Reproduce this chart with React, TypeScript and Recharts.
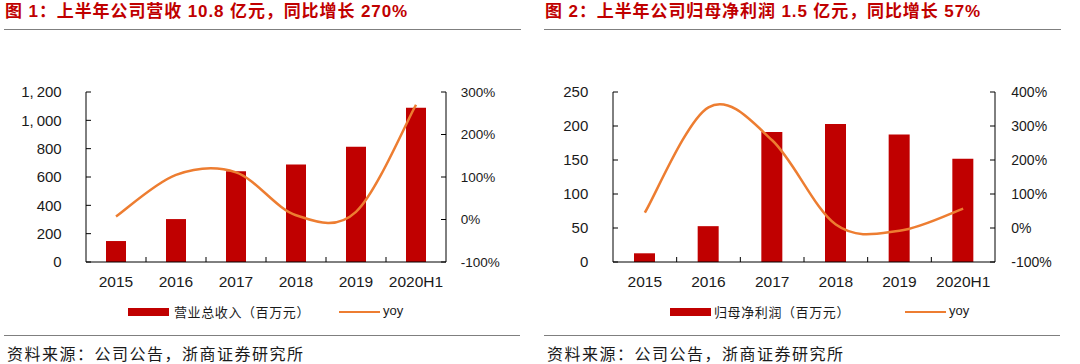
import React from 'react';
import { ComposedChart, Bar, Line, XAxis, YAxis } from 'recharts';

// ---------- data ----------
const years = ['2015', '2016', '2017', '2018', '2019', '2020H1'];
const revenue = [148, 303, 640, 689, 814, 1089];
const revenueYoy = [7, 105, 111, 10, 18, 270];
const netProfit = [12.8, 52.7, 191, 203, 187.5, 152];
const netProfitYoy = [45, 355, 258, 10, -8, 57];

const revenueTicks = [0, 200, 400, 600, 800, 1000, 1200];
const revenueYoyTicks = [-100, 0, 100, 200, 300];
const profitTicks = [0, 50, 100, 150, 200, 250];
const profitYoyTicks = [-100, 0, 100, 200, 300, 400];

const title1 = '图 1：上半年公司营收 10.8 亿元，同比增长 270%';
const title2 = '图 2：上半年公司归母净利润 1.5 亿元，同比增长 57%';
const legendBar1 = '营业总收入（百万元）';
const legendBar2 = '归母净利润（百万元）';
const legendLine = 'yoy';
const source = '资料来源：公司公告，浙商证券研究所';

const RED = '#C00000';
const ORANGE = '#ED7D31';
const AXIS = '#000000';
const TEXT = '#1a1a1a';
const SEP = '#7f7f7f';

// Excel-like smoothed line (Catmull-Rom bezier)
const excelSmooth: any = (context: any) => {
  let pts: number[][] = [];
  return {
    areaStart() {},
    areaEnd() {},
    lineStart() {
      pts = [];
    },
    point(x: number, y: number) {
      pts.push([+x, +y]);
    },
    lineEnd() {
      const n = pts.length;
      if (!n) return;
      context.moveTo(pts[0][0], pts[0][1]);
      for (let i = 0; i < n - 1; i++) {
        const p0 = pts[i - 1] || pts[i];
        const p1 = pts[i];
        const p2 = pts[i + 1];
        const p3 = pts[i + 2] || p2;
        context.bezierCurveTo(
          p1[0] + (p2[0] - p0[0]) / 6,
          p1[1] + (p2[1] - p0[1]) / 6,
          p2[0] - (p3[0] - p1[0]) / 6,
          p2[1] - (p3[1] - p1[1]) / 6,
          p2[0],
          p2[1]
        );
      }
    },
  };
};

const LeftTick = (props: any) => {
  const { x, y, payload, fontSize } = props;
  const s = Number(payload.value).toLocaleString('en-US');
  const parts = s.split(',');
  return (
    <text x={x} y={y} dy="0.355em" textAnchor="end" fill={TEXT} fontSize={fontSize} fontFamily='"Liberation Sans", Arial, sans-serif'>
      {parts.length > 1 ? (
        <>
          <tspan>{parts[0] + ','}</tspan>
          <tspan dx={3}>{parts[1]}</tspan>
        </>
      ) : (
        s
      )}
    </text>
  );
};

const RightTick = (props: any) => {
  const { x, y, payload, fontSize } = props;
  return (
    <text x={x} y={y} dy="0.355em" textAnchor="start" fill={TEXT} fontSize={fontSize} fontFamily='"Liberation Sans", Arial, sans-serif'>
      {payload.value + '%'}
    </text>
  );
};

const XTick = (props: any) => {
  const { x, y, payload, index, visibleTicksCount } = props;
  const off = payload && payload.offset ? payload.offset : 30;
  const last = index === (visibleTicksCount || years.length) - 1;
  return (
    <g>
      {!last && <line x1={x + off} x2={x + off} y1={y} y2={y - 5} stroke={AXIS} strokeWidth={1} />}
      <text x={x} y={y + 24.7} textAnchor="middle" fill={TEXT} fontSize={15.5} fontFamily='"Liberation Sans", Arial, sans-serif'>
        {payload.value}
      </text>
    </g>
  );
};

type PanelProps = {
  x0: number;
  title: string;
  values: number[];
  yoy: number[];
  leftTicks: number[];
  rightTicks: number[];
  leftW: number;
  rightMargin: number;
  leftTickMargin: number;
  rightTickMargin: number;
  leftFont: number;
  rightFont: number;
  barSize: number;
  legendBar: string;
  legendX: number[];
};

const Panel = (p: PanelProps) => {
  const data = years.map((y, i) => ({ year: y, value: p.values[i], yoy: p.yoy[i] }));
  const sepLeft = p.x0 + 4;
  return (
    <>
      <div
        style={{
          position: 'absolute',
          left: p.x0 + 5,
          top: 0,
          height: 24,
          lineHeight: '24px',
          fontSize: 17,
          fontWeight: 700,
          letterSpacing: 0.9,
          whiteSpace: 'pre',
          color: RED,
          fontFamily: '"Liberation Sans", "Noto Sans CJK SC", sans-serif',
        }}
      >
        {p.title}
      </div>
      <div style={{ position: 'absolute', left: sepLeft, top: 29, width: 517, height: 1.3, background: SEP }} />
      <div style={{ position: 'absolute', left: p.x0, top: 0 }}>
        <ComposedChart
          width={540}
          height={300}
          data={data}
          margin={{ top: 92, right: p.rightMargin, bottom: 8, left: 0 }}
          barCategoryGap={0}
        >
          <XAxis
            dataKey="year"
            xAxisId="x"
            interval={0}
            height={30}
            tickSize={0}
            tickMargin={0}
            tickLine={false}
            axisLine={{ stroke: AXIS, strokeWidth: 1 }}
            tick={<XTick />}
          />
          <YAxis
            yAxisId="left"
            orientation="left"
            width={p.leftW}
            domain={[p.leftTicks[0], p.leftTicks[p.leftTicks.length - 1]]}
            ticks={p.leftTicks}
            interval={0}
            tickSize={-5}
            tickMargin={p.leftTickMargin}
            tickLine={{ stroke: AXIS }}
            axisLine={{ stroke: AXIS, strokeWidth: 1 }}
            tick={<LeftTick fontSize={p.leftFont} />}
          />
          <YAxis
            yAxisId="right"
            orientation="right"
            width={60}
            domain={[p.rightTicks[0], p.rightTicks[p.rightTicks.length - 1]]}
            ticks={p.rightTicks}
            interval={0}
            tickSize={-5}
            tickMargin={p.rightTickMargin}
            tickLine={{ stroke: AXIS }}
            axisLine={{ stroke: AXIS, strokeWidth: 1 }}
            tick={<RightTick fontSize={p.rightFont} />}
          />
          <Bar xAxisId="x" yAxisId="left" dataKey="value" fill={RED} barSize={p.barSize} isAnimationActive={false} />
          <Line
            xAxisId="x"
            yAxisId="right"
            dataKey="yoy"
            stroke={ORANGE}
            strokeWidth={2.5}
            dot={false}
            activeDot={false}
            type={excelSmooth}
            isAnimationActive={false}
          />
        </ComposedChart>
      </div>
      {/* legend */}
      <div style={{ position: 'absolute', left: p.legendX[0], top: 308.3, width: 41, height: 7.4, background: RED }} />
      <div
        style={{
          position: 'absolute',
          left: p.legendX[1],
          top: 304,
          lineHeight: '16px',
          fontSize: 13,
          letterSpacing: 0.6,
          whiteSpace: 'pre',
          color: TEXT,
          fontFamily: '"Noto Sans CJK SC", sans-serif',
        }}
      >
        {p.legendBar}
      </div>
      <div style={{ position: 'absolute', left: p.legendX[2], top: 310.5, width: 41, height: 2.5, background: ORANGE }} />
      <div
        style={{
          position: 'absolute',
          left: p.legendX[3],
          top: 303,
          lineHeight: '16px',
          fontSize: 13,
          whiteSpace: 'pre',
          color: TEXT,
          fontFamily: '"Liberation Sans", Arial, sans-serif',
        }}
      >
        {legendLine}
      </div>
      {/* footer */}
      <div style={{ position: 'absolute', left: sepLeft, top: 334.5, width: 516, height: 1.3, background: SEP }} />
      <div
        style={{
          position: 'absolute',
          left: p.x0 + 7,
          top: 342.5,
          lineHeight: '20px',
          fontSize: 16,
          letterSpacing: 1.5,
          whiteSpace: 'pre',
          color: TEXT,
          fontFamily: '"Noto Sans CJK SC", sans-serif',
        }}
      >
        {source}
      </div>
    </>
  );
};

export default function App() {
  return (
    <div
      style={{
        position: 'absolute',
        left: 0,
        top: 0,
        width: 1080,
        height: 364,
        background: '#ffffff',
        overflow: 'hidden',
      }}
    >
      <Panel
        x0={0}
        title={title1}
        values={revenue}
        yoy={revenueYoy}
        leftTicks={revenueTicks}
        rightTicks={revenueYoyTicks}
        leftW={86}
        rightMargin={34}
        leftTickMargin={29.3}
        rightTickMargin={19.7}
        leftFont={15}
        rightFont={13.5}
        barSize={20}
        legendBar={legendBar1}
        legendX={[128, 174, 339, 383]}
      />
      <Panel
        x0={540}
        title={title2}
        values={netProfit}
        yoy={netProfitYoy}
        leftTicks={profitTicks}
        rightTicks={profitYoyTicks}
        leftW={73}
        rightMargin={25}
        leftTickMargin={29.7}
        rightTickMargin={21.3}
        leftFont={15}
        rightFont={14}
        barSize={21}
        legendBar={legendBar2}
        legendX={[670, 714, 905, 949]}
      />
    </div>
  );
}
